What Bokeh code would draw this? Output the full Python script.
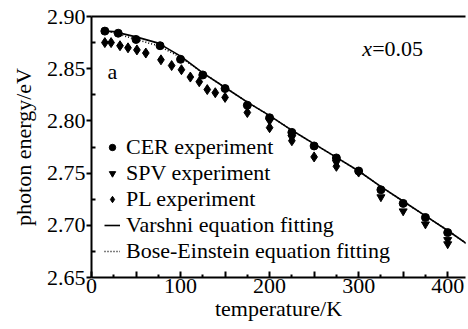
from bokeh.plotting import figure
from bokeh.models import Range1d, FixedTicker, LinearAxis, Label, Legend, LegendItem
from bokeh.embed import file_html
from bokeh.resources import INLINE

# ---- data ----
cer_T = [15, 30, 50, 77, 100, 125, 150, 175, 200, 225, 250, 275, 300, 325, 350, 375, 400]
cer_E = [2.886, 2.884, 2.878, 2.872, 2.859, 2.844, 2.831, 2.815, 2.803, 2.789, 2.776,
         2.7645, 2.752, 2.734, 2.721, 2.7075, 2.693]

spv_T = [200, 225, 275, 325, 350, 375, 400, 400]
spv_E = [2.800, 2.784, 2.760, 2.727, 2.7135, 2.701, 2.686, 2.682]

pl_T = [15, 22, 32, 41, 51, 61, 78, 90, 101, 111, 121, 130, 139, 150, 175, 200, 225, 250, 275, 300]
pl_E = [2.875, 2.875, 2.872, 2.870, 2.868, 2.865, 2.8585, 2.853, 2.849, 2.842, 2.8375, 2.830,
        2.827, 2.8225, 2.808, 2.7935, 2.781, 2.7655, 2.7565, 2.751]

fit_T = [15, 25, 50, 75, 100, 125, 150, 175, 200, 225, 250, 275, 300, 325, 350, 375, 400, 422]
varshni_E = [2.886, 2.8855, 2.8805, 2.8745, 2.862, 2.846, 2.832, 2.818, 2.805, 2.791, 2.778,
             2.765, 2.752, 2.737, 2.723, 2.709, 2.695, 2.682]
bose_E = [2.886, 2.8845, 2.878, 2.872, 2.861, 2.846, 2.832, 2.818, 2.805, 2.791, 2.778,
          2.765, 2.752, 2.737, 2.723, 2.709, 2.695, 2.682]

x_ticks = [0, 50, 100, 150, 200, 250, 300, 350, 400]
x_minor = [25, 75, 125, 175, 225, 275, 325, 375]
y_ticks = [2.65, 2.70, 2.75, 2.80, 2.85, 2.90]
y_minor = [2.675, 2.725, 2.775, 2.825, 2.875]

FONT = "Liberation Serif"
FS = "22px"

p = figure(width=468, height=329, output_backend="svg", toolbar_location=None,
           x_range=Range1d(0, 420), y_range=Range1d(2.65, 2.90),
           min_border_left=91, min_border_right=3, min_border_top=16, min_border_bottom=52)
p.outline_line_color = None
p.grid.visible = False
p.background_fill_color = "white"
p.border_fill_color = "white"

xa = p.xaxis[0]
xa.ticker = FixedTicker(ticks=x_ticks, minor_ticks=x_minor)
xa.major_label_overrides = {50: "", 150: "", 250: "", 350: ""}
xa.major_tick_in = 6
xa.major_tick_out = 0
xa.minor_tick_in = 3
xa.minor_tick_out = 0
xa.axis_line_width = 2
xa.major_tick_line_width = 2
xa.minor_tick_line_width = 2
xa.axis_label = "temperature/K"
xa.major_label_standoff = 1
xa.axis_label_standoff = 0

ya = p.yaxis[0]
ya.ticker = FixedTicker(ticks=y_ticks, minor_ticks=y_minor)
ya.major_label_overrides = {v: f"{v:.2f}" for v in y_ticks}
ya.major_tick_in = 0
ya.major_tick_out = 5
ya.minor_tick_in = 4
ya.minor_tick_out = 0
ya.axis_line_width = 2
ya.major_tick_line_width = 2
ya.minor_tick_line_width = 2
ya.axis_label = "photon energy/eV"
ya.major_label_standoff = 1
ya.axis_label_standoff = 8

for ax in (xa, ya):
    ax.major_label_text_font = FONT
    ax.major_label_text_font_size = FS
    ax.axis_label_text_font = FONT
    ax.axis_label_text_font_size = FS
    ax.axis_label_text_font_style = "normal"
    ax.major_label_text_color = "black"
    ax.axis_label_text_color = "black"

top = LinearAxis(ticker=FixedTicker(ticks=[]), axis_line_width=2,
                 major_tick_in=0, major_tick_out=0, minor_tick_in=0, minor_tick_out=0,
                 major_label_text_font_size="0px")
p.add_layout(top, "above")

# fits
r_v = p.line(fit_T, varshni_E, line_color="black", line_width=1.6)
r_b = p.line(fit_T, bose_E, line_color="black", line_width=1.6, line_dash="1 2")

# experiments
r_cer = p.scatter(cer_T, cer_E, marker="circle", size=8, color="black")
r_spv = p.scatter(spv_T, spv_E, marker="inverted_triangle", size=8, color="black")
r_pl = p.scatter(pl_T, pl_E, marker="diamond", size=10, color="black")

legend = Legend(items=[
    LegendItem(label="CER experiment", renderers=[r_cer]),
    LegendItem(label="SPV experiment", renderers=[r_spv]),
    LegendItem(label="PL experiment", renderers=[r_pl]),
    LegendItem(label="Varshni equation fitting", renderers=[r_v]),
    LegendItem(label="Bose-Einstein equation fitting", renderers=[r_b]),
], location=(13, 13))
legend.label_text_font = FONT
legend.label_text_font_size = FS
legend.label_text_color = "black"
legend.glyph_width = 16
legend.glyph_height = 16
legend.label_height = 16
legend.spacing = -6
legend.padding = 0
legend.margin = 0
legend.label_standoff = 6
legend.border_line_color = None
legend.background_fill_alpha = 0
p.add_layout(legend, "center")

p.add_layout(Label(x=18, y=2.847, text="a", text_font=FONT, text_font_size=FS,
                   text_baseline="middle", text_color="black"))
p.add_layout(Label(x=304, y=2.869, text="x", text_font=FONT, text_font_size=FS,
                   text_font_style="italic", text_baseline="middle", text_color="black"))
p.add_layout(Label(x=304, x_offset=10, y=2.869, text="=0.05", text_font=FONT, text_font_size=FS,
                   text_baseline="middle", text_color="black"))

open("out.html", "w").write(file_html(p, INLINE))
